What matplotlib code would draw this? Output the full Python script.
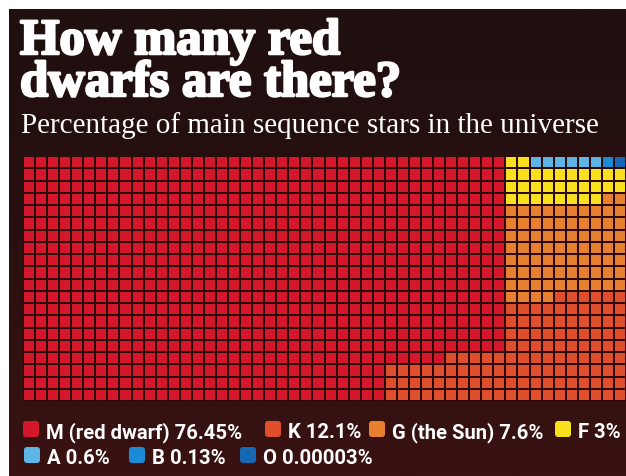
import numpy as np
import matplotlib
matplotlib.use("Agg")
import matplotlib.pyplot as plt
import matplotlib.patheffects as pe
from matplotlib.colors import ListedColormap, LinearSegmentedColormap
from matplotlib.patches import FancyBboxPatch

# star classes, shares (%) and cells in a 1000-cell waffle
classes = ["M", "K", "G", "F", "A", "B", "O"]
labels = ["M (red dwarf) 76.45%", "K 12.1%", "G (the Sun) 7.6%", "F 3%",
          "A 0.6%", "B 0.13%", "O 0.00003%"]
shares = [76.45, 12.1, 7.6, 3.0, 0.6, 0.13, 0.00003]
cells = [765, 121, 76, 30, 6, 1, 1]
colors = ["#d4172b", "#df4f2b", "#e7812f", "#f8e01f", "#5db5e6", "#1b8bd6", "#1768b4"]

n_rows, n_cols = 20, 50

# fill order: right 10-column block in a serpentine from the top,
# then the next block from the bottom up, the rest is M
order = []
for r in range(n_rows):
    cols = range(n_cols - 1, n_cols - 11, -1) if r % 2 == 0 else range(n_cols - 10, n_cols)
    order += [(r, c) for c in cols]
for r in range(n_rows - 1, -1, -1):
    order += [(r, c) for c in range(n_cols - 11, n_cols - 21, -1)]

grid = np.zeros((n_rows, n_cols), dtype=int)  # 0 = M
pos = 0
for k in range(len(classes) - 1, 0, -1):  # O, B, A, F, G, K
    for (r, c) in order[pos:pos + cells[k]]:
        grid[r, c] = k
    pos += cells[k]

W, H = 626, 477
fig = plt.figure(figsize=(W / 100, H / 100), dpi=100, facecolor="white")

bg = fig.add_axes([0, 0, 1, 1])
bg.set_xlim(0, W)
bg.set_ylim(H, 0)
bg.axis("off")
grad = LinearSegmentedColormap.from_list("bg", ["#1f0f0f", "#2a1010", "#3a1212"])
bg.imshow(np.linspace(0, 1, 200)[:, None], cmap=grad, aspect="auto",
          extent=[9, W, H, 10], zorder=0)

heavy = [pe.withStroke(linewidth=1.8, foreground="white")]
bg.text(20, 55, "How many red", color="white", fontsize=36.5, fontweight="bold",
        family="Liberation Serif", va="baseline", path_effects=heavy)
bg.text(20, 97, "dwarfs are there?", color="white", fontsize=36.5, fontweight="bold",
        family="Liberation Serif", va="baseline", path_effects=heavy)
bg.text(21, 133, "Percentage of main sequence stars in the universe", color="white",
        fontsize=21, family="Liberation Serif", va="baseline")

# waffle
gx = fig.add_axes([23 / W, 1 - 402 / H, 603 / W, 245 / H])
gx.pcolormesh(np.arange(n_cols + 1), np.arange(n_rows + 1), grid,
              cmap=ListedColormap(colors), vmin=-0.5, vmax=len(colors) - 0.5,
              edgecolors="#2a0a0a", linewidth=1.3)
gx.set_xlim(0, n_cols)
gx.set_ylim(n_rows, 0)
gx.axis("off")

# legend: swatch left edge and text baseline, in pixels
legend_pos = [(23, 438), (265, 438), (369, 438), (555, 438),
              (24, 464), (129, 464), (240, 464)]
for lab, col, (x, y) in zip(labels, colors, legend_pos):
    bg.add_patch(FancyBboxPatch((x, y - 16), 16, 16,
                                boxstyle="round,pad=0,rounding_size=3",
                                fc=col, ec="none", zorder=3))
    bg.text(x + 23, y, lab, color="white", fontsize=14.6, fontweight="bold",
            family="Roboto", va="baseline", zorder=3)

fig.savefig("out.png", dpi=100, facecolor="white")
